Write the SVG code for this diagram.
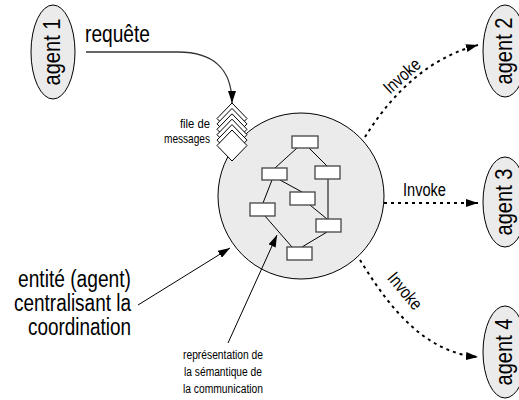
<svg xmlns="http://www.w3.org/2000/svg" width="519" height="400" viewBox="0 0 519 400">
<defs>
<marker id="ah" markerUnits="userSpaceOnUse" markerWidth="14" markerHeight="8" refX="12" refY="4" orient="auto"><path d="M0,0 L12,4 L0,8 z" fill="#000"/></marker>
</defs>
<style>
.t{font-family:"Liberation Sans",Arial,sans-serif;fill:#000}
.agent{fill:#ebebeb;stroke:#000;stroke-width:1}
.box{fill:#fff;stroke:#444;stroke-width:1.3}
.edge{fill:none;stroke:#000;stroke-width:1}
.dot{fill:none;stroke:#000;stroke-width:2;stroke-dasharray:3 4}
.solid{fill:none;stroke:#000;stroke-width:1}
.q{fill:#fff;stroke:#000;stroke-width:1}
</style>
<rect width="519" height="400" fill="#fff"/>

<g id="coordinator">
<circle cx="301" cy="196" r="83" fill="#ebebeb" stroke="#000" stroke-width="1"/>
</g>

<g id="queue">
<path class="q" d="M232,103 L247,118.5 L232,134 L217,118.5 Z"/>
<path class="q" d="M232,108.4 L247,123.9 L232,139.4 L217,123.9 Z"/>
<path class="q" d="M232,113.8 L247,129.3 L232,144.8 L217,129.3 Z"/>
<path class="q" d="M232,119.2 L247,134.7 L232,150.2 L217,134.7 Z"/>
<path class="q" d="M232,124.6 L247,140.1 L232,155.6 L217,140.1 Z"/>
<path class="q" d="M232,130 L247,145.5 L232,161 L217,145.5 Z"/>
<text class="t" font-size="13" text-anchor="end" x="210" y="128" textLength="30" lengthAdjust="spacingAndGlyphs">file de</text>
<text class="t" font-size="13" text-anchor="end" x="210" y="143" textLength="46" lengthAdjust="spacingAndGlyphs">messages</text>
</g>

<g id="connectors">
<line class="edge" x1="297" y1="148" x2="275" y2="168"/>
<line class="edge" x1="309" y1="148" x2="327" y2="166"/>
<line class="edge" x1="272" y1="180" x2="263" y2="203"/>
<line class="edge" x1="280" y1="180" x2="302" y2="192"/>
<line class="edge" x1="328" y1="179" x2="328" y2="219"/>
<line class="edge" x1="310" y1="205" x2="327" y2="219"/>
<line class="edge" x1="265" y1="216" x2="292" y2="247"/>
<line class="edge" x1="327" y1="232" x2="302" y2="247"/>
<path d="M86,52 L178,52 C212,52 232,68 232,103" fill="none" stroke="#333" stroke-width="1.3" marker-end="url(#ah)"/>
<path class="dot" d="M365,137 C385,105 420,60 478,45" marker-end="url(#ah)"/>
<path class="dot" d="M384,203 L478,203" marker-end="url(#ah)"/>
<path class="dot" d="M360,260 C385,300 420,352 478,357" marker-end="url(#ah)"/>
<path class="solid" d="M138,305 L230,248" marker-end="url(#ah)"/>
<path class="solid" d="M228,343 L277,235" marker-end="url(#ah)"/>
<text class="t" font-size="23" x="85" y="42" textLength="65" lengthAdjust="spacingAndGlyphs">requête</text>
<text class="t" font-size="18" text-anchor="middle" transform="translate(402,76) rotate(-42)" x="0" y="6" textLength="43" lengthAdjust="spacingAndGlyphs">Invoke</text>
<text class="t" font-size="18" text-anchor="middle" x="424.5" y="196" textLength="43" lengthAdjust="spacingAndGlyphs">Invoke</text>
<text class="t" font-size="18" text-anchor="middle" transform="translate(405,291) rotate(50)" x="0" y="6" textLength="43" lengthAdjust="spacingAndGlyphs">Invoke</text>
</g>

<g id="boxA"><rect class="box" x="292" y="136" width="26" height="12"/></g>
<g id="boxB"><rect class="box" x="262" y="168" width="25" height="12"/></g>
<g id="boxC"><rect class="box" x="315" y="166" width="25" height="13"/></g>
<g id="boxD"><rect class="box" x="290" y="192" width="25" height="13"/></g>
<g id="boxE"><rect class="box" x="250" y="203" width="25" height="13"/></g>
<g id="boxF"><rect class="box" x="316" y="219" width="25" height="13"/></g>
<g id="boxG"><rect class="box" x="287" y="247" width="25" height="13"/></g>

<g id="agent1">
<ellipse class="agent" cx="53" cy="52" rx="22" ry="47"/>
<text class="t" font-size="24" text-anchor="middle" transform="translate(60,52) rotate(-90)" textLength="67" lengthAdjust="spacingAndGlyphs">agent 1</text>
</g>
<g id="agent2">
<ellipse class="agent" cx="505" cy="51" rx="22" ry="46"/>
<text class="t" font-size="24" text-anchor="middle" transform="translate(512,51) rotate(-90)" textLength="67" lengthAdjust="spacingAndGlyphs">agent 2</text>
</g>
<g id="agent3">
<ellipse class="agent" cx="505" cy="202" rx="22" ry="45"/>
<text class="t" font-size="24" text-anchor="middle" transform="translate(512,202) rotate(-90)" textLength="67" lengthAdjust="spacingAndGlyphs">agent 3</text>
</g>
<g id="agent4">
<ellipse class="agent" cx="505" cy="352" rx="22" ry="46"/>
<text class="t" font-size="24" text-anchor="middle" transform="translate(512,352) rotate(-90)" textLength="67" lengthAdjust="spacingAndGlyphs">agent 4</text>
</g>

<g id="label-entite">
<text class="t" font-size="23" text-anchor="end" x="131" y="287" textLength="113" lengthAdjust="spacingAndGlyphs">entité (agent)</text>
<text class="t" font-size="23" text-anchor="end" x="131" y="311" textLength="117" lengthAdjust="spacingAndGlyphs">centralisant la</text>
<text class="t" font-size="23" text-anchor="end" x="131" y="335" textLength="103" lengthAdjust="spacingAndGlyphs">coordination</text>
</g>
<g id="label-semantique">
<text class="t" font-size="12.5" text-anchor="middle" x="223" y="359" textLength="80" lengthAdjust="spacingAndGlyphs">représentation de</text>
<text class="t" font-size="12.5" text-anchor="middle" x="223" y="376" textLength="78" lengthAdjust="spacingAndGlyphs">la sémantique de</text>
<text class="t" font-size="12.5" text-anchor="middle" x="223" y="393" textLength="80" lengthAdjust="spacingAndGlyphs">la communication</text>
</g>
</svg>
